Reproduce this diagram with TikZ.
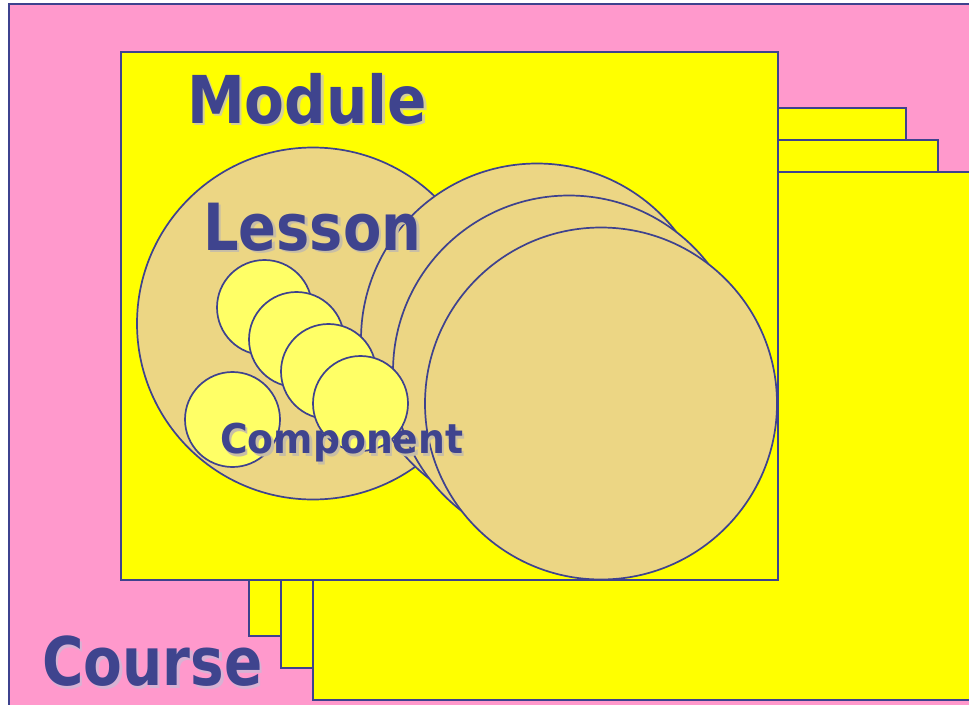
\documentclass[tikz,border=0pt]{standalone}
\usepackage{fontspec}
\setmainfont{DejaVu Sans}
\usepackage{graphicx}
\definecolor{pinkbg}{RGB}{255,153,204}
\definecolor{yel}{RGB}{255,255,0}
\definecolor{edge}{RGB}{62,66,142}
\definecolor{txt}{RGB}{63,68,142}
\definecolor{lessonfill}{RGB}{236,214,132}
\definecolor{compfill}{RGB}{255,255,102}
\definecolor{shyel}{RGB}{212,208,150}
\definecolor{shtan}{RGB}{200,190,165}
\definecolor{shpink}{RGB}{215,178,212}
% #1 size, #2 x-scale, #3 shadow colour, #4 text
\newcommand\shtext[4]{\fontsize{#1}{#1}\selectfont\bfseries
  \makebox[0pt][l]{\hspace{2.5pt}\raisebox{-2.5pt}{\textcolor{#3}{\scalebox{#2}[1]{#4}}}}%
  \textcolor{txt}{\scalebox{#2}[1]{#4}}}
\begin{document}
\begin{tikzpicture}[x=1pt,y=-1pt,
  box/.style={draw=edge, fill=yel, line width=2pt, minimum width=657pt, minimum height=528pt, inner sep=0pt, anchor=north west},
  lessonc/.style={circle, draw=edge, fill=lessonfill, line width=1.7pt, minimum size=352pt, inner sep=0pt},
  compc/.style={circle, draw=edge, fill=compfill, line width=1.7pt, minimum size=95pt, inner sep=0pt},
  lbl/.style={inner sep=0pt, anchor=base west}]
\useasboundingbox (0,0) rectangle (969,704);
\fill[white] (0,0) rectangle (969,704);
\node[draw=edge, fill=pinkbg, line width=2pt, inner sep=0pt, anchor=north west, minimum width=980pt, minimum height=720pt] (course) at (8,3) {};
\node[box] (r1) at (248,107) {};
\node[box] (r2) at (280,139) {};
\node[box] (r3) at (312,171) {};
\node[box] (module) at (120,51) {};
\node[lessonc] (lesson) at (313,323.5) {};
\node[lessonc] (l2) at (537,339.5) {};
\node[lessonc] (l3) at (569,371.5) {};
\node[lessonc] (l4) at (601,403.5) {};
\node[compc] (c0) at (232.5,419.5) {};
\node[compc] (c1) at (264.5,307.5) {};
\node[compc] (c2) at (296.5,339.5) {};
\node[compc] (c3) at (328.5,371.5) {};
\node[compc] (c4) at (360.5,403.5) {};
\node[lbl] (tmod) at (187,123) {\shtext{66}{0.88}{shyel}{Module}};
\node[lbl] (tles) at (203,250) {\shtext{65}{0.86}{shtan}{Lesson}};
\node[lbl] (tcou) at (42,685.5) {\shtext{67}{0.843}{shpink}{Course}};
\node[lbl] (tcom) at (220,453.5) {\shtext{41}{0.92}{shtan}{Component}};
\end{tikzpicture}
\end{document}
